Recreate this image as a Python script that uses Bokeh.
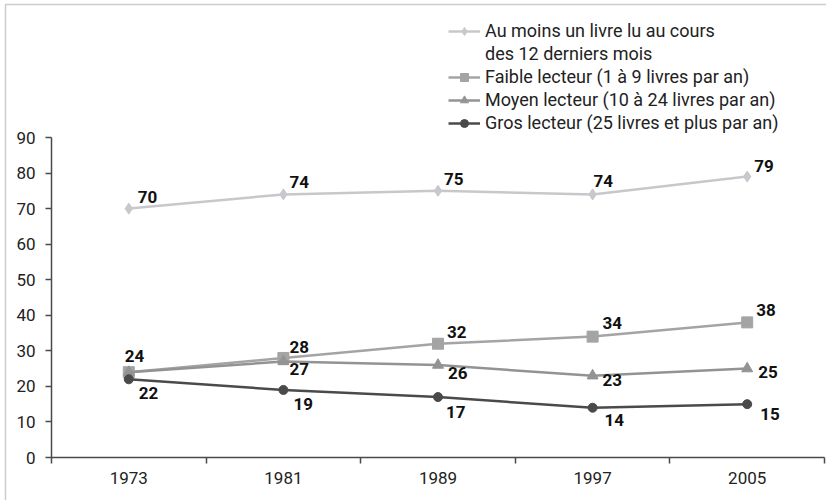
from bokeh.plotting import figure
from bokeh.models import FixedTicker, Range1d, Legend, LegendItem, LinearAxis, BoxAnnotation
from bokeh.core.properties import value
from bokeh.embed import file_html
from bokeh.resources import INLINE

# ---- data ----
years = ["1973", "1981", "1989", "1997", "2005"]
au_moins = [70, 74, 75, 74, 79]
faible = [24, 28, 32, 34, 38]
moyen = [24, 27, 26, 23, 25]
gros = [22, 19, 17, 14, 15]
y_ticks = [0, 10, 20, 30, 40, 50, 60, 70, 80, 90]
series_names = [
    "Au moins un livre lu au cours",
    "Faible lecteur (1 à 9 livres par an)",
    "Moyen lecteur (10 à 24 livres par an)",
    "Gros lecteur (25 livres et plus par an)",
]
first_name_line2 = "des 12 derniers mois"

# ---- label placement (pixel offsets, style only) ----
label_dx = [[9, 6, 6, 1, 7], [-4, 6, 9, 10, 9], [0, 6, 10, 10, 11], [10, 10, 8, 12, 13]]
label_dy = [[-12, -12, -12, -13, -11], [-16, -11, -12, -14, -12], [0, 7, 8, 4, 3],
            [14, 14, 15, 12, 10]]
label_skip = [(2, 0)]   # the 1973 value of "Moyen lecteur" shares the label of "Faible lecteur"

FONT = "Roboto"
n = len(years)
xs = [i + 0.5 for i in range(n)]

# ---- layout (pixels) ----
W, H = 826, 500
PLOT_L, PLOT_R = 51, 824      # x of the axis start / end
PLOT_T, PLOT_B = 137, 457     # y of top tick / bottom axis
y_top = y_ticks[-1]
px_x = (PLOT_R - PLOT_L) / n
px_y = (PLOT_B - PLOT_T) / y_top
x_range = Range1d(-PLOT_L / px_x, n + (W - PLOT_R) / px_x)
y_range = Range1d(-(H - PLOT_B) / px_y, y_top + PLOT_T / px_y)

p = figure(width=W, height=H, x_range=x_range, y_range=y_range,
           x_axis_location=None, y_axis_location=None,
           output_backend="svg", toolbar_location=None,
           min_border=0)
p.outline_line_color = None
p.xgrid.grid_line_color = None
p.ygrid.grid_line_color = None
p.background_fill_color = "white"
p.border_fill_color = "white"

axis_col = "#4a4a4a"
yaxis = LinearAxis(fixed_location=0, bounds=(y_ticks[0], y_ticks[-1]),
                   ticker=FixedTicker(ticks=y_ticks, minor_ticks=[]))
yaxis.axis_line_color = axis_col
yaxis.axis_line_width = 1.5
yaxis.major_tick_line_color = axis_col
yaxis.major_tick_line_width = 1.5
yaxis.major_tick_out = 6
yaxis.major_tick_in = 0
yaxis.minor_tick_line_color = None
yaxis.major_label_standoff = 10
yaxis.major_label_text_font = FONT
yaxis.major_label_text_font_size = "17px"
yaxis.major_label_text_color = "#222222"
p.add_layout(yaxis, "left")

# x axis: labels at category centers, ticks at boundaries
xaxis = LinearAxis(fixed_location=0, bounds=(0, n),
                   ticker=FixedTicker(ticks=xs, minor_ticks=list(range(n + 1))))
xaxis.major_label_overrides = {x: y for x, y in zip(xs, years)}
xaxis.axis_line_color = axis_col
xaxis.axis_line_width = 1.5
xaxis.major_tick_line_color = None
xaxis.major_tick_out = 0
xaxis.major_tick_in = 0
xaxis.minor_tick_line_color = axis_col
xaxis.minor_tick_line_width = 1.5
xaxis.minor_tick_out = 6
xaxis.minor_tick_in = 0
xaxis.major_label_standoff = 8
xaxis.major_label_text_font = FONT
xaxis.major_label_text_font_size = "17px"
xaxis.major_label_text_color = "#222222"
p.add_layout(xaxis, "below")

colors = ["#c8c8cc", "#a4a4a4", "#939393", "#4a4a4a"]
markers = ["diamond", "square", "triangle", "circle"]
sizes = [11, 11, 11, 9]
values = [au_moins, faible, moyen, gros]

items = []
for i, (vals, col, mk, sz) in enumerate(zip(values, colors, markers, sizes)):
    ln = p.line(xs, vals, line_color=col, line_width=2.5)
    sc = p.scatter(xs, vals, marker=mk, size=sz, fill_color=col, line_color=col)
    items.append(LegendItem(label=series_names[i], renderers=[ln, sc]))
    if i == 0:
        # second line of the first legend entry (no symbol)
        blank = p.line([], [], line_alpha=0)
        items.append(LegendItem(label=first_name_line2, renderers=[blank]))

# data labels
for i, vals in enumerate(values):
    for j, (x, v) in enumerate(zip(xs, vals)):
        if (i, j) in label_skip:
            continue
        p.text([x], [v], text=[str(v)], x_offset=label_dx[i][j], y_offset=label_dy[i][j],
               text_font=value(FONT), text_font_style="bold", text_font_size="17px",
               text_color="#111111", text_align="left", text_baseline="middle")

legend = Legend(items=items, location=(448, 367), orientation="vertical",
                border_line_color=None, background_fill_alpha=0,
                label_text_font=FONT, label_text_font_size="18px", label_text_color="#222222",
                glyph_width=32, glyph_height=20, label_height=20, label_standoff=5,
                spacing=2, padding=0, margin=0)
p.add_layout(legend, "center")

# outer frame of the figure (only its top and left edges fall inside the picture)
outer = BoxAnnotation(left=5, top=4, right=W + 50, bottom=H + 50,
                      left_units="canvas", right_units="canvas",
                      top_units="canvas", bottom_units="canvas",
                      fill_alpha=0, line_color="#555555", line_width=1.5)
p.add_layout(outer)

open("out.html", "w").write(file_html(p, INLINE))
